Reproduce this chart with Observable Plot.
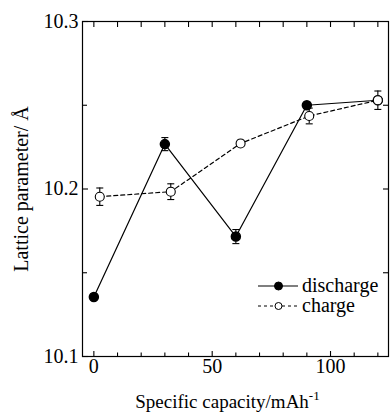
<!DOCTYPE html>
<html><head><meta charset="utf-8">
<script src="https://cdn.jsdelivr.net/npm/d3@7"></script>
<script src="https://cdn.jsdelivr.net/npm/@observablehq/plot@0.6"></script>
<style>
body{margin:0;background:#fff}
#wrap{position:relative;width:390px;height:412px;font-family:"Liberation Serif","Times New Roman",Times,"DejaVu Serif",serif}
#wrap svg text{font-family:"Liberation Serif","Times New Roman",Times,"DejaVu Serif",serif}
#legend{position:absolute;left:0;top:0}
</style>
</head><body><div id="wrap"></div>
<script>
const dischargeX = [0, 30, 60, 90, 120];
const dischargeY = [10.1355, 10.2268, 10.1716, 10.2500, 10.2530];
const dischargeErr = [0, 0.0039, 0.0042, 0.0012, 0];
const chargeX = [2.5, 32.5, 62, 91, 120];
const chargeY = [10.1954, 10.1984, 10.2272, 10.2436, 10.2530];
const chargeErr = [0.0052, 0.0047, 0.0018, 0.0047, 0.0055];
const xMajorTicks = [0, 50, 100];
const xMinorTicks = [10, 20, 30, 40, 60, 70, 80, 90, 110, 120];
const xTopTicks = [0, 10, 20, 30, 40, 50, 60, 70, 80, 90, 100, 110, 120];
const yLabelTicks = [10.1, 10.2, 10.3];
const yMinorTicks = [10.15, 10.25];
const yRightTicks = [10.15, 10.2, 10.25];
const seriesNames = ["discharge", "charge"];
const xTitle = "Specific capacity/mAh";
const xTitleSup = "-1";
const yTitle = "Lattice parameter/ Å";

const FONT = "'Liberation Serif', 'Times New Roman', Times, 'DejaVu Serif', serif";

const discharge = dischargeX.map((x, i) => ({x, y: dischargeY[i], e: dischargeErr[i]}));
const charge = chargeX.map((x, i) => ({x, y: chargeY[i], e: chargeErr[i]}));
const errD = discharge.filter(d => d.e > 0);
const errC = charge.filter(d => d.e > 0);

const capSymbol = {draw(ctx, size) { const w = Math.sqrt(size / Math.PI); ctx.moveTo(-w, 0); ctx.lineTo(w, 0); }};

const errMarks = (data) => [
  Plot.ruleX(data, {x: "x", y1: d => d.y - d.e, y2: d => d.y + d.e, stroke: "black", strokeWidth: 1.1}),
  Plot.dot(data, {x: "x", y: d => d.y - d.e, symbol: capSymbol, r: 3.5, stroke: "black", strokeWidth: 1.1, fill: "none"}),
  Plot.dot(data, {x: "x", y: d => d.y + d.e, symbol: capSymbol, r: 3.5, stroke: "black", strokeWidth: 1.1, fill: "none"})
];

const chart = Plot.plot({
  width: 390, height: 412,
  marginLeft: 82, marginRight: 2, marginTop: 21, marginBottom: 56,
  style: {fontFamily: FONT, fontSize: "20px", color: "black", background: "white"},
  x: {domain: [-4.8, 124.5], axis: null},
  y: {domain: [10.1, 10.3], axis: null},
  marks: [
    Plot.frame({stroke: "black", strokeWidth: 1.2}),
    Plot.axisX({anchor: "bottom", ticks: xMajorTicks, tickSize: -5, text: null, label: null, strokeWidth: 1.1}),
    Plot.axisX({anchor: "bottom", ticks: xMinorTicks, tickSize: -3.5, text: null, label: null, strokeWidth: 1.1}),
    Plot.axisX({anchor: "bottom", ticks: xMajorTicks, tickSize: 0, tickPadding: 2, label: null, fontSize: 20}),
    Plot.axisX({anchor: "top", ticks: xTopTicks, tickSize: -5, text: null, label: null, strokeWidth: 1.1}),
    Plot.axisY({anchor: "left", ticks: yLabelTicks, tickSize: -6, text: null, label: null, strokeWidth: 1.1}),
    Plot.axisY({anchor: "left", ticks: yMinorTicks, tickSize: -5, text: null, label: null, strokeWidth: 1.1}),
    Plot.axisY({anchor: "left", ticks: yLabelTicks, tickSize: 0, tickPadding: 4, tickFormat: d3.format(".1f"), label: null, fontSize: 20}),
    Plot.axisY({anchor: "right", ticks: yRightTicks, tickSize: -6, text: null, label: null, strokeWidth: 1.1}),
    Plot.text([xTitle], {frameAnchor: "bottom", text: d => d, textAnchor: "middle", lineAnchor: "bottom", dx: -8, dy: 51, fontSize: 19}),
    Plot.text([yTitle], {frameAnchor: "left", text: d => d, textAnchor: "middle", lineAnchor: "middle", rotate: -90, dx: -61, fontSize: 20}),
    ...errMarks(errC),
    ...errMarks(errD),
    Plot.line(discharge, {x: "x", y: "y", stroke: "black", strokeWidth: 1.2}),
    Plot.line(charge, {x: "x", y: "y", stroke: "black", strokeWidth: 1.2, strokeDasharray: "4,3"}),
    Plot.dot(discharge, {x: "x", y: "y", r: 4.5, fill: "black", stroke: "black"}),
    Plot.dot(charge, {x: "x", y: "y", r: 4.5, fill: "white", stroke: "black", strokeWidth: 1.1})
  ]
});
document.getElementById("wrap").appendChild(chart);

// superscript on x title
chart.querySelectorAll("text").forEach(t => {
  if (t.textContent === xTitle) {
    const sup = document.createElementNS("http://www.w3.org/2000/svg", "tspan");
    sup.setAttribute("dy", "-8");
    sup.setAttribute("font-size", "13");
    sup.textContent = xTitleSup;
    t.appendChild(sup);
  }
});

// legend overlay
const ns = "http://www.w3.org/2000/svg";
const lg = document.createElementNS(ns, "svg");
lg.setAttribute("id", "legend");
lg.setAttribute("width", 390); lg.setAttribute("height", 412);
const rows = [
  {name: seriesNames[0], y: 286, dash: null, fill: "black", r: 4},
  {name: seriesNames[1], y: 306, dash: "3,3", fill: "white", r: 3.5}
];
rows.forEach(r => {
  const l = document.createElementNS(ns, "line");
  l.setAttribute("x1", 258); l.setAttribute("x2", 298);
  l.setAttribute("y1", r.y); l.setAttribute("y2", r.y);
  l.setAttribute("stroke", "black"); l.setAttribute("stroke-width", r.dash ? 1 : 1.2);
  if (r.dash) l.setAttribute("stroke-dasharray", r.dash);
  lg.appendChild(l);
  const c = document.createElementNS(ns, "circle");
  c.setAttribute("cx", 278.5); c.setAttribute("cy", r.y); c.setAttribute("r", r.r);
  c.setAttribute("fill", r.fill); c.setAttribute("stroke", "black"); c.setAttribute("stroke-width", 1);
  lg.appendChild(c);
  const t = document.createElementNS(ns, "text");
  t.setAttribute("x", 302); t.setAttribute("y", r.y + 6);
  t.setAttribute("font-family", FONT); t.setAttribute("font-size", 20);
  t.textContent = r.name;
  lg.appendChild(t);
});
document.getElementById("wrap").appendChild(lg);
</script>
</body></html>
